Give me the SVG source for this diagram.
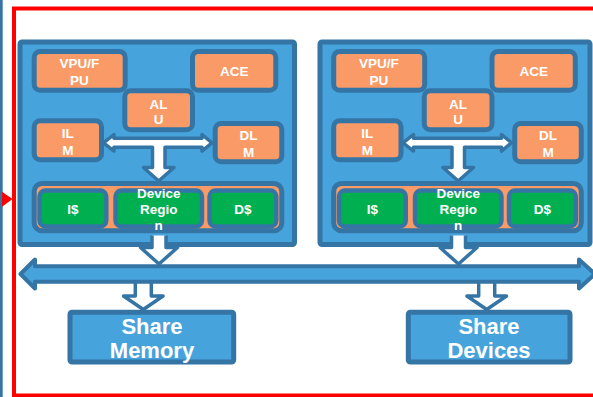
<svg xmlns="http://www.w3.org/2000/svg" width="593" height="397" viewBox="0 0 593 397">
<defs>
<style>
.box{fill:#47a3dc;stroke:#3575a5;stroke-width:5}
.org{fill:#f99a67;stroke:#3575a5;stroke-width:5}
.grn{fill:#00b050;stroke:#3575a5;stroke-width:4.4}
.warr{fill:#ffffff;stroke:#3575a5;stroke-width:3.5;stroke-linejoin:round}
.bus{fill:#47a3dc;stroke:#3575a5;stroke-width:4;stroke-linejoin:round}
.t{font-family:"Liberation Sans",Arial,sans-serif;font-weight:bold;font-size:13.5px;fill:#ffffff;text-anchor:middle}
.tb{font-family:"Liberation Sans",Arial,sans-serif;font-weight:bold;font-size:22px;fill:#ffffff;text-anchor:middle}
</style>
<g id="cluster-inner">
<g id="vpu"><rect class="org" x="34.2" y="51.5" width="91" height="38.7" rx="6"/><text class="t" x="79.5" y="68">VPU/F</text><text class="t" x="79.5" y="84.7">PU</text></g>
<g id="ace"><rect class="org" x="192.5" y="51.5" width="83.3" height="38.7" rx="6"/><text class="t" x="234.2" y="76.3">ACE</text></g>
<g id="alu"><rect class="org" x="124.8" y="90.8" width="67.7" height="39" rx="6"/><text class="t" x="158.6" y="108.7">AL</text><text class="t" x="158.6" y="124">U</text></g>
<g id="ilm"><rect class="org" x="34.2" y="120.8" width="67.3" height="39" rx="6"/><text class="t" x="67.8" y="138">IL</text><text class="t" x="67.8" y="154.7">M</text></g>
<g id="dlm"><rect class="org" x="215.2" y="123.5" width="66.6" height="38.3" rx="6"/><text class="t" x="248.5" y="139.7">DL</text><text class="t" x="248.5" y="157">M</text></g>
<g id="tarrow"><path class="warr" d="M103.5 142.8 L114 134.5 L114 138.3 L202 138.3 L202 134.5 L212 142.8 L202 151.1 L202 147.3 L165 147.3 L165 167.5 L174 167.5 L158.7 181 L143.5 167.5 L152.5 167.5 L152.5 147.3 L114 147.3 L114 151.1 Z"/></g>
<g id="devwrap"><rect class="org" x="34.2" y="183.5" width="247.6" height="47.3" rx="8"/></g>
<g id="icache"><rect class="grn" x="39.5" y="190.5" width="66.8" height="36" rx="6"/><text class="t" x="73" y="214">I$</text></g>
<g id="devreg"><rect class="grn" x="115.5" y="190.5" width="86.5" height="36" rx="6"/><text class="t" x="158.7" y="198.3">Device</text><text class="t" x="158.7" y="214">Regio</text><text class="t" x="158.7" y="230">n</text></g>
<g id="dcache"><rect class="grn" x="209.5" y="190.5" width="66.8" height="36" rx="6"/><text class="t" x="242.9" y="214">D$</text></g>
</g>
</defs>
<rect x="0" y="0" width="2.7" height="397" fill="#3575a5"/>
<polygon points="2,191.7 12.5,199 2,206.7" fill="#ff0000"/>
<rect x="14" y="8.5" width="600" height="387" fill="none" stroke="#ff0000" stroke-width="4"/>
<g id="cluster-left">
<rect class="box" x="20" y="42" width="274.5" height="202.5" rx="2"/>
<use href="#cluster-inner"/>
</g>
<g id="cluster-right">
<rect class="box" x="320" y="42" width="270" height="202.5" rx="2"/>
<use href="#cluster-inner" transform="translate(299.5,0)"/>
</g>
<g id="connectors">
<path class="warr" d="M135.3 280 L135.3 296 L123.5 296 L143.3 309.5 L163.1 296 L151.3 296 L151.3 280"/>
<path class="warr" d="M478.7 280 L478.7 296 L466.9 296 L486.7 309.5 L506.5 296 L494.7 296 L494.7 280"/>
<path id="bus" class="bus" d="M20.5 274 L35 259.5 L35 266.2 L579 266.2 L579 259.5 L595 274 L579 288.5 L579 281.7 L35 281.7 L35 288.5 Z"/>
<path class="warr" d="M152 235.5 L152 247.5 L140.5 247.5 L159 264 L177.5 247.5 L166 247.5 L166 235.5"/>
<path class="warr" d="M451.5 235.5 L451.5 247.5 L440 247.5 L458.5 264 L477 247.5 L465.5 247.5 L465.5 235.5"/>
</g>
<g id="share-memory">
<rect class="box" x="70" y="312.3" width="163.7" height="49.7" rx="2" stroke-width="4.5"/>
<text class="tb" x="152" y="333.5">Share</text>
<text class="tb" x="152" y="357.5">Memory</text>
</g>
<g id="share-devices">
<rect class="box" x="408.3" y="312.3" width="161.7" height="49.7" rx="2" stroke-width="4.5"/>
<text class="tb" x="489" y="333.5">Share</text>
<text class="tb" x="489" y="357.5">Devices</text>
</g>
</svg>
